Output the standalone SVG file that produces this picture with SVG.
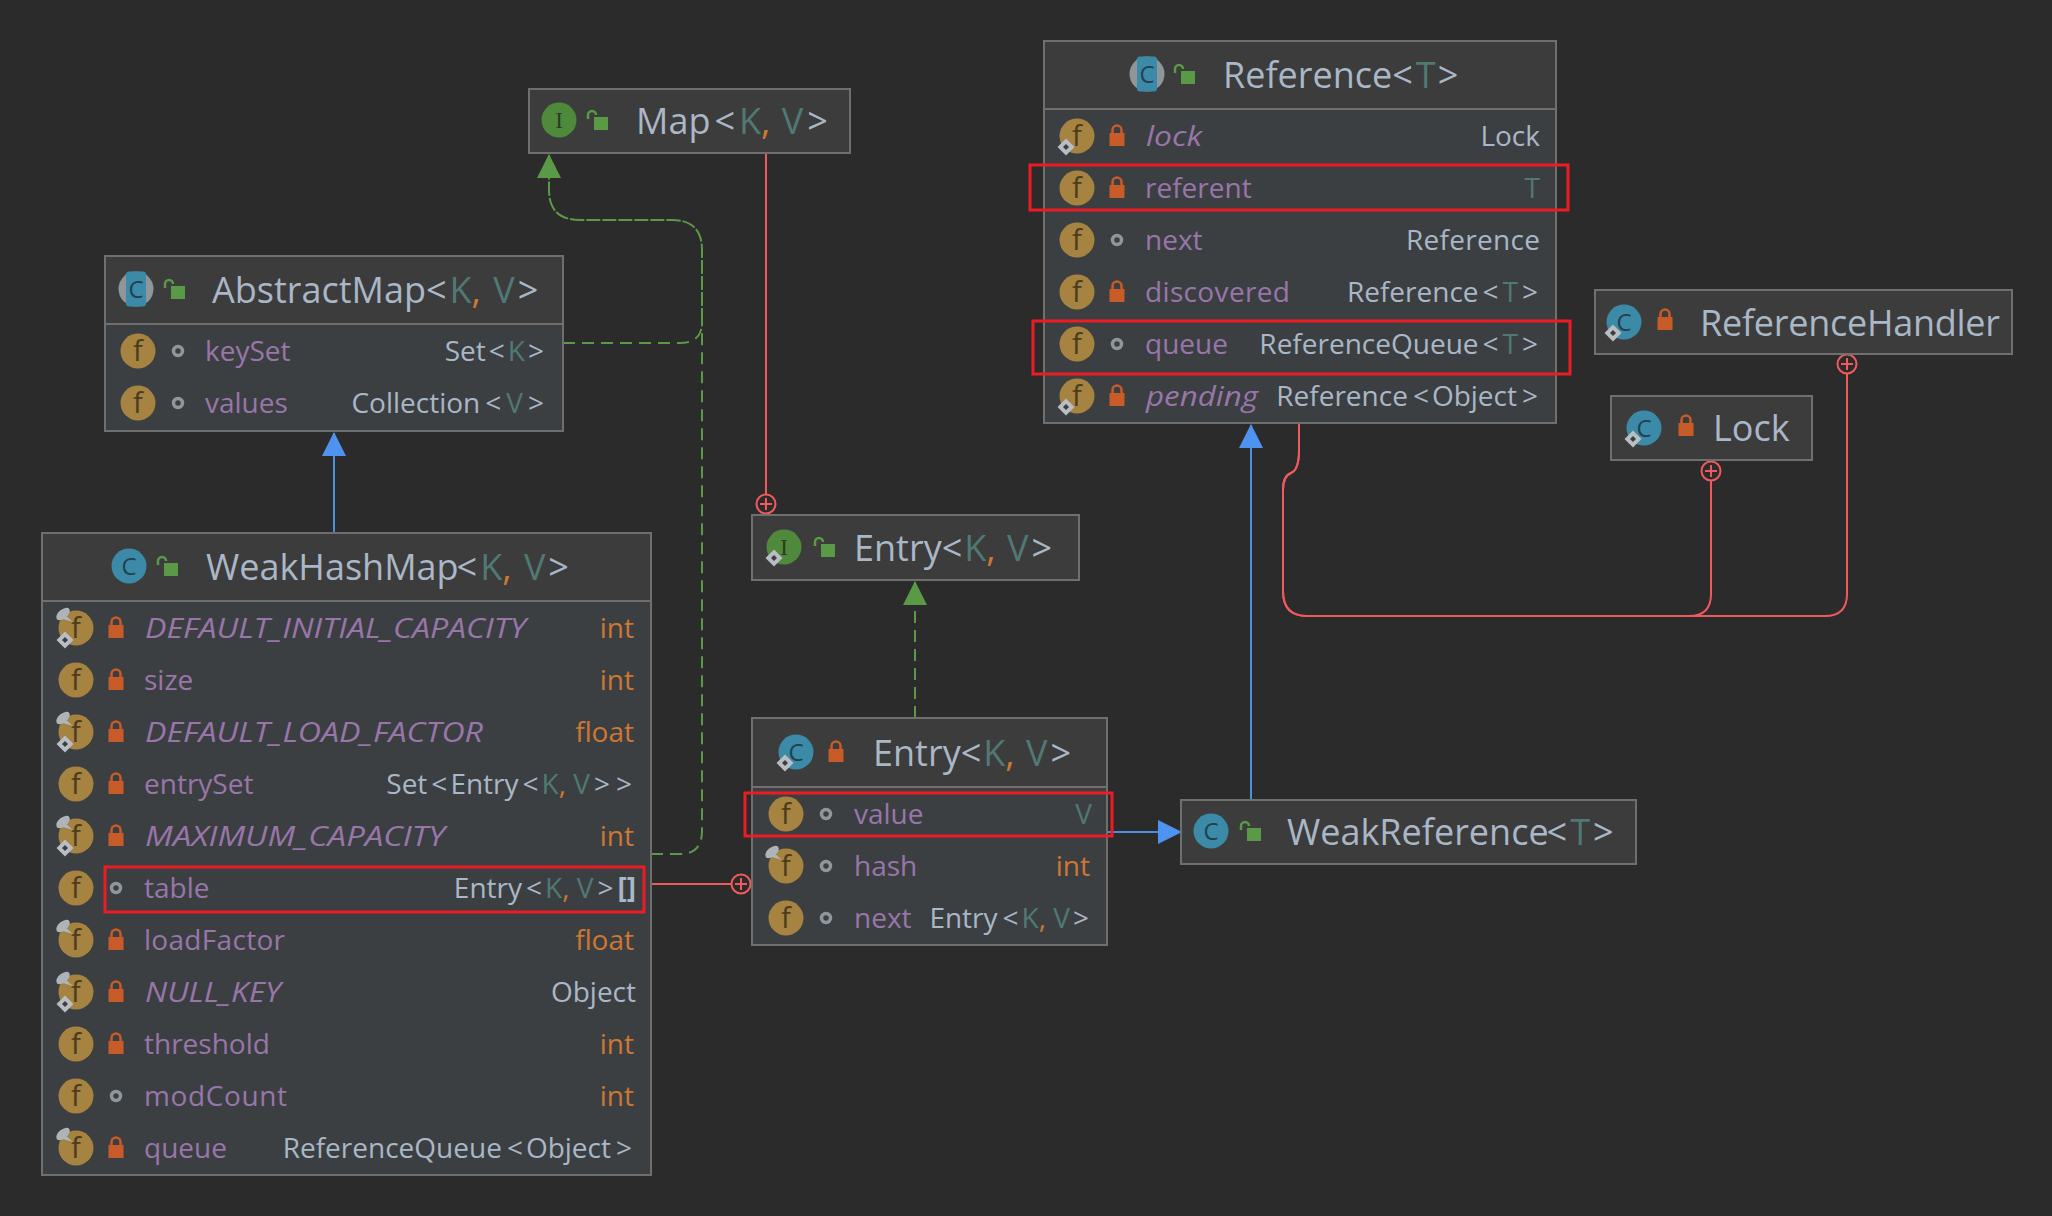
<svg xmlns="http://www.w3.org/2000/svg" width="2052" height="1216" viewBox="0 0 2052 1216">
<style>
text{font-family:"Open Sans","Noto Sans","Liberation Sans",sans-serif}
.box{fill:#3c3f41;stroke:#6f6f6f;stroke-width:2}
.hd{fill:#3c3c3c}
.sep{stroke:#6f6f6f;stroke-width:2}
.t{font-size:36px;fill:#a9b7c6}
.n{font-size:28px;fill:#9876aa}
.i{font-style:italic}
.r{font-size:28px;fill:#a9b7c6;text-anchor:end}
.p{fill:#cc7832}
.g{fill:#507874}
.b{font-weight:bold}
.c{fill:none;stroke-width:2}
.gr{stroke:#5a9a46}
.dash{stroke-dasharray:12 7}
.dense{stroke-dasharray:14 2}
.bl{stroke:#4a8fe0}
.rd{stroke:#f05a5f}
.hl{fill:none;stroke:#ed1c24;stroke-width:3}
.fg{font-size:29px;fill:#4a3c1c;text-anchor:middle}
.cg{font-size:24px;fill:#23404e;text-anchor:middle}
.ig{font-size:23px;fill:#2b3b22;text-anchor:middle;font-family:"Liberation Serif",serif}
</style>
<defs>
<circle id="f" r="17.5" fill="#a68340"/>
<circle id="cl" r="17.5" fill="#3b8ba8"/>
<circle id="in" r="17.5" fill="#4f8a3c"/>
<g id="ab"><circle r="17.5" fill="#8e969b"/><rect x="-10" y="-17.5" width="20" height="35" rx="3" fill="#3b8ba8"/></g>
<g id="pin"><ellipse rx="4.500" ry="8" transform="rotate(50)" fill="#aeb5ba"/><path d="M2 1L10 8L0 5Z" fill="#aeb5ba"/></g>
<g id="dia"><path d="M0 -8.500L8.500 0L0 8.500L-8.500 0Z" fill="#b8bec3"/><path d="M0 -3L3 0L0 3L-3 0Z" fill="#3c3f41"/></g>
<g id="lk"><rect x="-7.500" y="-3" width="15" height="13" fill="#c75c28"/><path d="M-4.500 -3V-6a4.500 4.500 0 0 1 9 0V-3" fill="none" stroke="#c75c28" stroke-width="2.500"/></g>
<g id="ol"><rect x="-3" y="-4" width="14" height="13" fill="#5a9a46"/><path d="M-9 -2V-6a4 4 0 0 1 8 0" fill="none" stroke="#5a9a46" stroke-width="2.500"/></g>
<circle id="dot" r="4.500" fill="none" stroke="#8f979c" stroke-width="3.500"/>
<g id="plus"><circle r="9.500" fill="#2b2b2b" stroke="#f05a5f" stroke-width="2"/><path d="M-6 0H6M0 -6V6" stroke="#f05a5f" stroke-width="2"/></g>
<marker id="ag" markerUnits="userSpaceOnUse" markerWidth="24" markerHeight="24" refX="23" refY="12" orient="auto"><path d="M0 0L24 12L0 24Z" fill="#5a9a46"/></marker>
<marker id="ab2" markerUnits="userSpaceOnUse" markerWidth="24" markerHeight="24" refX="23" refY="12" orient="auto"><path d="M0 0L24 12L0 24Z" fill="#4f93f0"/></marker>
</defs>
<rect width="2052" height="1216" fill="#2b2b2b"/>

<g id="connectors">
<path class="c gr dash" d="M563 343H680Q702 343 702 322"/>
<path class="c gr dash" d="M651 854H680Q702 854 702 831V322"/>
<path class="c gr dense" marker-end="url(#ag)" d="M702 322V250Q702 220 672 220H580Q549 220 549 190V155"/>
<path class="c gr dash" marker-end="url(#ag)" d="M915 718V582"/>
<path class="c bl" marker-end="url(#ab2)" d="M334 533V433"/>
<path class="c bl" marker-end="url(#ab2)" d="M1107 832H1181"/>
<path class="c bl" marker-end="url(#ab2)" d="M1251 799V425"/>
<path class="c rd" d="M766 153V495"/>
<path class="c rd" d="M651 884H732"/>
<path class="c rd" d="M1299 423V450Q1299 470 1291 473Q1283 476 1283 490V591Q1283 616 1307 616H1689Q1711 616 1711 594V481"/>
<path class="c rd" d="M1299 423V450Q1299 470 1291 473Q1283 476 1283 490V591Q1283 616 1307 616H1825Q1847 616 1847 594V374"/>
<use href="#plus" x="766" y="504"/>
<use href="#plus" x="741" y="884"/>
<use href="#plus" x="1711" y="471"/>
<use href="#plus" x="1847" y="364"/>
</g>

<g id="node-map">
<rect class="box hd" x="529" y="89" width="321" height="64"/>
<use href="#in" x="559" y="120"/><text class="ig" x="559" y="128">I</text>
<use href="#ol" x="597" y="121"/>
<text class="t" x="636" y="134">Map<tspan dx="4">&lt;</tspan><tspan class="g" dx="4">K</tspan><tspan class="p">,</tspan> <tspan class="g" dx="2">V</tspan><tspan dx="4">&gt;</tspan></text>
</g>

<g id="node-abstractmap">
<rect class="box" x="105" y="256" width="458" height="175"/>
<rect class="hd" x="106" y="257" width="456" height="67"/>
<line class="sep" x1="106" y1="324" x2="562" y2="324"/>
<use href="#ab" x="136" y="289"/><text class="cg" x="136" y="298">C</text>
<use href="#ol" x="174" y="290"/>
<text class="t" x="212" y="303">AbstractMap&lt;<tspan class="g" dx="3">K</tspan><tspan class="p">,</tspan> <tspan class="g" dx="3">V</tspan><tspan dx="3">&gt;</tspan></text>
<use href="#f" x="138" y="351"/><text class="fg" x="138" y="361">f</text><use href="#dot" x="178" y="351"/>
<text class="n" x="205" y="361">keySet</text><text class="r" x="544" y="361">Set<tspan dx="3">&lt;</tspan><tspan class="g" dx="3">K</tspan><tspan dx="3">&gt;</tspan></text>
<use href="#f" x="138" y="403"/><text class="fg" x="138" y="413">f</text><use href="#dot" x="178" y="403"/>
<text class="n" x="205" y="413">values</text><text class="r" x="544" y="413">Collection<tspan dx="5">&lt;</tspan><tspan class="g" dx="5">V</tspan><tspan dx="5">&gt;</tspan></text>
</g>

<g id="node-weakhashmap">
<rect class="box" x="42" y="533" width="609" height="642"/>
<rect class="hd" x="43" y="534" width="607" height="67"/>
<line class="sep" x1="43" y1="601" x2="650" y2="601"/>
<use href="#cl" x="129" y="566"/><text class="cg" x="129" y="575">C</text>
<use href="#ol" x="167" y="567"/>
<text class="t" x="206" y="580">WeakHashMap<tspan dx="-2">&lt;</tspan><tspan class="g" dx="3">K</tspan><tspan class="p">,</tspan> <tspan class="g" dx="3">V</tspan><tspan dx="3">&gt;</tspan></text>

<use href="#f" x="76" y="628"/><text class="fg" x="76" y="638">f</text><use href="#pin" x="63" y="614"/><use href="#dia" x="65" y="640"/><use href="#lk" x="116" y="628"/>
<text class="n i" x="145" y="638" textLength="381" lengthAdjust="spacingAndGlyphs">DEFAULT_INITIAL_CAPACITY</text><text class="r p" x="634" y="638">int</text>
<use href="#f" x="76" y="680"/><text class="fg" x="76" y="690">f</text><use href="#lk" x="116" y="680"/>
<text class="n" x="144" y="690">size</text><text class="r p" x="634" y="690">int</text>
<use href="#f" x="76" y="732"/><text class="fg" x="76" y="742">f</text><use href="#pin" x="63" y="718"/><use href="#dia" x="65" y="744"/><use href="#lk" x="116" y="732"/>
<text class="n i" x="145" y="742" textLength="338" lengthAdjust="spacingAndGlyphs">DEFAULT_LOAD_FACTOR</text><text class="r p" x="634" y="742">float</text>
<use href="#f" x="76" y="784"/><text class="fg" x="76" y="794">f</text><use href="#lk" x="116" y="784"/>
<text class="n" x="144" y="794">entrySet</text><text class="r" x="632" y="794">Set<tspan dx="4">&lt;</tspan><tspan dx="3">Entry</tspan><tspan dx="4">&lt;</tspan><tspan class="g" dx="3">K</tspan><tspan class="p">,</tspan> <tspan class="g">V</tspan><tspan dx="4">&gt;</tspan><tspan dx="6">&gt;</tspan></text>
<use href="#f" x="76" y="836"/><text class="fg" x="76" y="846">f</text><use href="#pin" x="63" y="822"/><use href="#dia" x="65" y="848"/><use href="#lk" x="116" y="836"/>
<text class="n i" x="145" y="846" textLength="300" lengthAdjust="spacingAndGlyphs">MAXIMUM_CAPACITY</text><text class="r p" x="634" y="846">int</text>
<use href="#f" x="76" y="888"/><text class="fg" x="76" y="898">f</text><use href="#dot" x="116" y="888"/>
<text class="n" x="144" y="898">table</text><text class="r" x="636" y="898">Entry<tspan dx="4">&lt;</tspan><tspan class="g" dx="3">K</tspan><tspan class="p">,</tspan> <tspan class="g">V</tspan><tspan dx="4">&gt;</tspan><tspan class="b" dx="4">[]</tspan></text>
<use href="#f" x="76" y="940"/><text class="fg" x="76" y="950">f</text><use href="#pin" x="63" y="926"/><use href="#lk" x="116" y="940"/>
<text class="n" x="144" y="950" textLength="141">loadFactor</text><text class="r p" x="634" y="950">float</text>
<use href="#f" x="76" y="992"/><text class="fg" x="76" y="1002">f</text><use href="#pin" x="63" y="978"/><use href="#dia" x="65" y="1004"/><use href="#lk" x="116" y="992"/>
<text class="n i" x="145" y="1002" textLength="136" lengthAdjust="spacingAndGlyphs">NULL_KEY</text><text class="r" x="636" y="1002">Object</text>
<use href="#f" x="76" y="1044"/><text class="fg" x="76" y="1054">f</text><use href="#lk" x="116" y="1044"/>
<text class="n" x="144" y="1054">threshold</text><text class="r p" x="634" y="1054">int</text>
<use href="#f" x="76" y="1096"/><text class="fg" x="76" y="1106">f</text><use href="#dot" x="116" y="1096"/>
<text class="n" x="144" y="1106" textLength="143">modCount</text><text class="r p" x="634" y="1106">int</text>
<use href="#f" x="76" y="1148"/><text class="fg" x="76" y="1158">f</text><use href="#pin" x="63" y="1134"/><use href="#lk" x="116" y="1148"/>
<text class="n" x="144" y="1158">queue</text><text class="r" x="632" y="1158">ReferenceQueue<tspan dx="5">&lt;</tspan><tspan dx="3">Object</tspan><tspan dx="5">&gt;</tspan></text>
</g>

<g id="node-entry-interface">
<rect class="box hd" x="752" y="515" width="327" height="65"/>
<use href="#in" x="784" y="547"/><text class="ig" x="784" y="555">I</text><use href="#dia" x="774" y="558"/>
<use href="#ol" x="824" y="548"/>
<text class="t" x="854" y="561">Entry&lt;<tspan class="g" dx="2">K</tspan><tspan class="p">,</tspan> <tspan class="g" dx="2">V</tspan><tspan dx="3">&gt;</tspan></text>
</g>

<g id="node-entry">
<rect class="box" x="752" y="718" width="355" height="227"/>
<rect class="hd" x="753" y="719" width="353" height="68"/>
<line class="sep" x1="753" y1="787" x2="1106" y2="787"/>
<use href="#cl" x="796" y="752"/><text class="cg" x="796" y="761">C</text><use href="#dia" x="785" y="763"/>
<use href="#lk" x="836" y="752"/>
<text class="t" x="873" y="766">Entry&lt;<tspan class="g" dx="2">K</tspan><tspan class="p">,</tspan> <tspan class="g" dx="2">V</tspan><tspan dx="3">&gt;</tspan></text>
<use href="#f" x="786" y="814"/><text class="fg" x="786" y="824">f</text><use href="#dot" x="826" y="814"/>
<text class="n" x="854" y="824">value</text><text class="r g" x="1092" y="824">V</text>
<use href="#f" x="786" y="866"/><text class="fg" x="786" y="876">f</text><use href="#pin" x="772" y="852"/><use href="#dot" x="826" y="866"/>
<text class="n" x="854" y="876">hash</text><text class="r p" x="1090" y="876">int</text>
<use href="#f" x="786" y="918"/><text class="fg" x="786" y="928">f</text><use href="#dot" x="826" y="918"/>
<text class="n" x="854" y="928">next</text><text class="r" x="1089" y="928">Entry<tspan dx="5">&lt;</tspan><tspan class="g" dx="3">K</tspan><tspan class="p">,</tspan> <tspan class="g">V</tspan><tspan dx="3">&gt;</tspan></text>
</g>

<g id="node-weakreference">
<rect class="box hd" x="1181" y="800" width="455" height="64"/>
<use href="#cl" x="1211" y="831"/><text class="cg" x="1211" y="840">C</text>
<use href="#ol" x="1250" y="832"/>
<text class="t" x="1287" y="845">WeakReference<tspan dx="-2">&lt;</tspan><tspan class="g" dx="3">T</tspan><tspan dx="3">&gt;</tspan></text>
</g>

<g id="node-reference">
<rect class="box" x="1044" y="41" width="512" height="382"/>
<rect class="hd" x="1045" y="42" width="510" height="67"/>
<line class="sep" x1="1045" y1="109" x2="1555" y2="109"/>
<use href="#ab" x="1147" y="74"/><text class="cg" x="1147" y="83">C</text>
<use href="#ol" x="1184" y="75"/>
<text class="t" x="1223" y="88">Reference&lt;<tspan class="g" dx="3">T</tspan><tspan dx="2">&gt;</tspan></text>
<use href="#f" x="1077" y="136"/><text class="fg" x="1077" y="146">f</text><use href="#dia" x="1066" y="147"/><use href="#lk" x="1117" y="136"/>
<text class="n i" x="1146" y="146" textLength="56" lengthAdjust="spacingAndGlyphs">lock</text><text class="r" x="1540" y="146">Lock</text>
<use href="#f" x="1077" y="188"/><text class="fg" x="1077" y="198">f</text><use href="#lk" x="1117" y="188"/>
<text class="n" x="1145" y="198">referent</text><text class="r g" x="1540" y="198">T</text>
<use href="#f" x="1077" y="240"/><text class="fg" x="1077" y="250">f</text><use href="#dot" x="1117" y="240"/>
<text class="n" x="1145" y="250">next</text><text class="r" x="1540" y="250" textLength="134">Reference</text>
<use href="#f" x="1077" y="292"/><text class="fg" x="1077" y="302">f</text><use href="#lk" x="1117" y="292"/>
<text class="n" x="1145" y="302" textLength="145">discovered</text><text class="r" x="1538" y="302">Reference<tspan dx="4">&lt;</tspan><tspan class="g" dx="4">T</tspan><tspan dx="4">&gt;</tspan></text>
<use href="#f" x="1077" y="344"/><text class="fg" x="1077" y="354">f</text><use href="#dot" x="1117" y="344"/>
<text class="n" x="1145" y="354">queue</text><text class="r" x="1538" y="354">ReferenceQueue<tspan dx="4">&lt;</tspan><tspan class="g" dx="4">T</tspan><tspan dx="4">&gt;</tspan></text>
<use href="#f" x="1077" y="396"/><text class="fg" x="1077" y="406">f</text><use href="#dia" x="1066" y="407"/><use href="#lk" x="1117" y="396"/>
<text class="n i" x="1146" y="406" textLength="112" lengthAdjust="spacingAndGlyphs">pending</text><text class="r" x="1538" y="406">Reference<tspan dx="5">&lt;</tspan><tspan dx="3">Object</tspan><tspan dx="5">&gt;</tspan></text>
</g>

<g id="node-referencehandler">
<rect class="box hd" x="1595" y="290" width="417" height="64"/>
<use href="#cl" x="1624" y="322"/><text class="cg" x="1624" y="331">C</text><use href="#dia" x="1613" y="333"/>
<use href="#lk" x="1665" y="320"/>
<text class="t" x="1700" y="336" textLength="300">ReferenceHandler</text>
</g>

<g id="node-lock">
<rect class="box hd" x="1611" y="396" width="201" height="64"/>
<use href="#cl" x="1644" y="428"/><text class="cg" x="1644" y="437">C</text><use href="#dia" x="1633" y="439"/>
<use href="#lk" x="1686" y="426"/>
<text class="t" x="1713" y="441">Lock</text>
</g>

<rect class="hl" x="1030" y="165" width="538" height="45"/>
<rect class="hl" x="1033" y="321" width="537" height="53"/>
<rect class="hl" x="105" y="867" width="539" height="45"/>
<rect class="hl" x="745" y="793" width="367" height="43"/>
</svg>
